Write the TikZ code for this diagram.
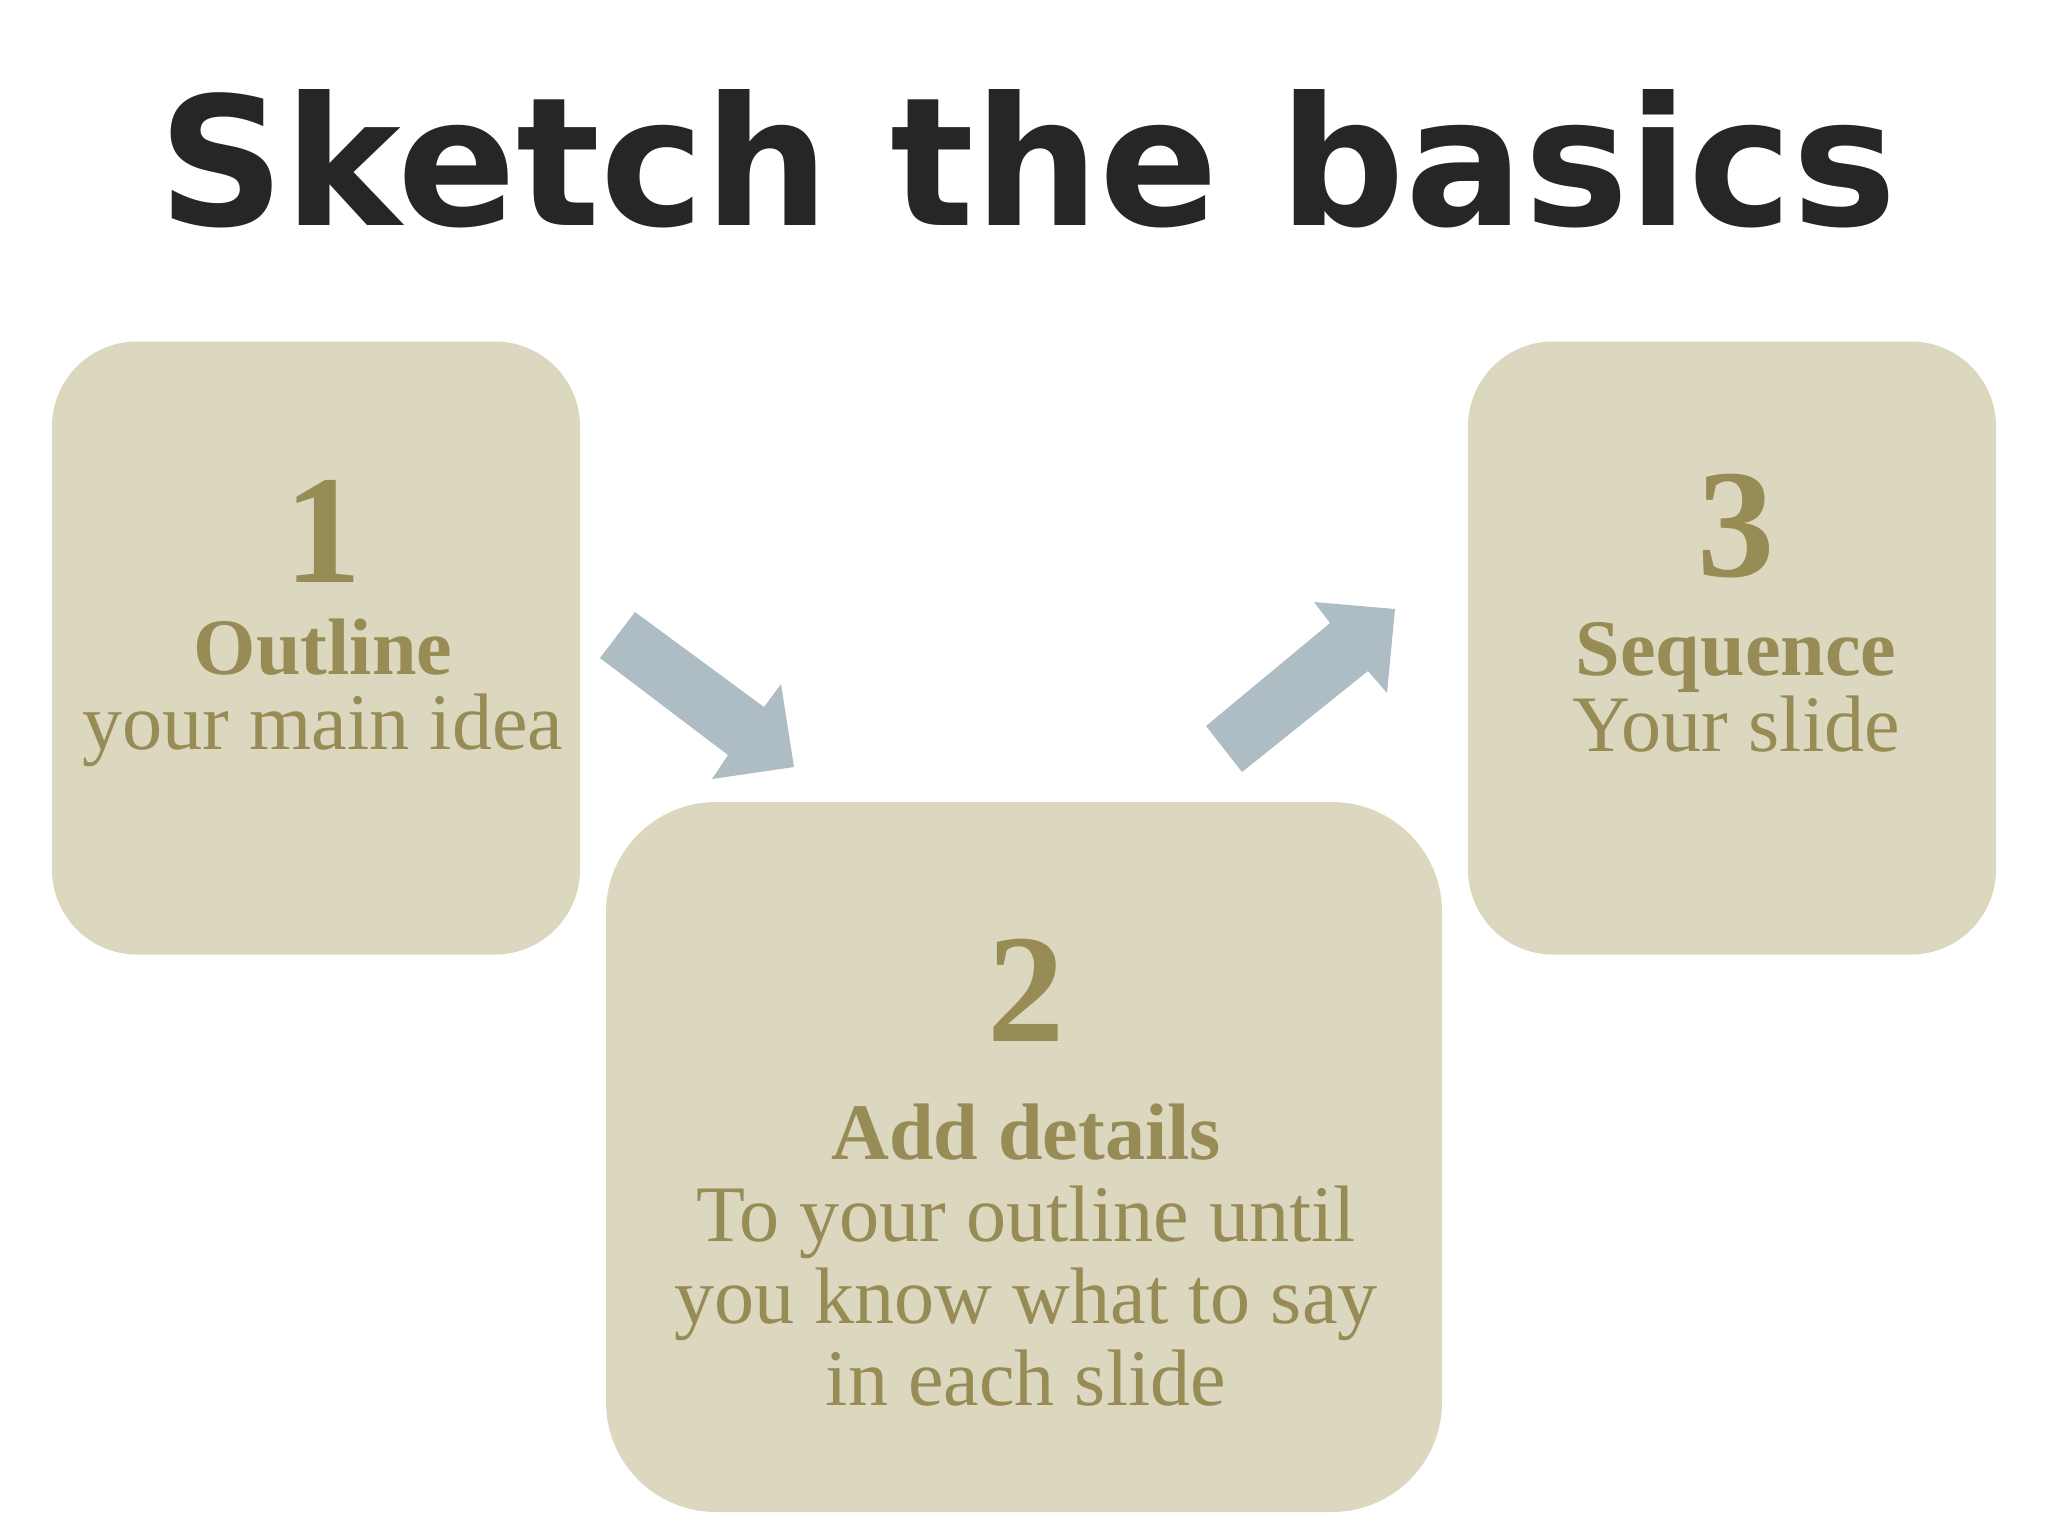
\documentclass[tikz,border=0pt]{standalone}
\usepackage{fontspec}
\setmainfont{Liberation Serif}
\newfontfamily\titlefont{DejaVu Sans}
\usetikzlibrary{positioning}

\definecolor{boxfill}{HTML}{DCD8C0}
\definecolor{stepink}{HTML}{978C55}
\definecolor{arrowgray}{HTML}{AEBDC4}
\definecolor{titleink}{HTML}{262626}

\newcommand{\stepnum}[1]{{\bfseries\fontsize{44pt}{44pt}\selectfont #1}}
\newcommand{\stephead}[1]{{\bfseries #1}}

\begin{document}
\begin{tikzpicture}[x=0.1mm, y=-0.1mm,
  stepbox/.style={fill=boxfill, rounded corners=8.5mm, inner sep=0},
  steptext/.style={text=stepink, anchor=north, inner sep=0, align=center},
  blockarrow/.style={fill=arrowgray}]
\useasboundingbox (0,0) rectangle (2048,1536);

\node[anchor=base, inner sep=0, text=titleink] (title) at (1028,225)
  {\resizebox{173.9mm}{13.6mm}{\titlefont\bfseries Sketch the basics}};

\node[stepbox, minimum width=52.8mm, minimum height=61.3mm] (one) at (316,648) {};
\node[stepbox, minimum width=83.6mm, minimum height=71mm, rounded corners=11mm] (two) at (1024,1157) {};
\node[stepbox, minimum width=52.8mm, minimum height=61.3mm] (three) at (1732,648) {};

% arrows between the steps
\fill[blockarrow] (635,612) -- (764,707) -- (781,684) -- (794,767) -- (712,779) -- (728,755) -- (600,658) -- cycle;
\fill[blockarrow] (1206,726) -- (1330,623) -- (1314,602) -- (1395,609) -- (1387,693) -- (1368,671) -- (1242,772) -- cycle;

\node[steptext, font=\fontsize{22.8pt}{7.5mm}\selectfont] (t1) at (323,480)
  {\stepnum{1}\\[1.7mm] \stephead{Outline}\\ your main idea};

\node[steptext, font=\fontsize{22.8pt}{8.2mm}\selectfont] (t2) at (1026,938)
  {\stepnum{2}\\[3.6mm] \stephead{Add details}\\ To your outline until\\ you know what to say\\ in each slide};

\node[steptext, font=\fontsize{22.8pt}{7mm}\selectfont] (t3) at (1736,473)
  {\stepnum{3}\\[2.9mm] \stephead{Sequence}\\ Your slide};
\end{tikzpicture}
\end{document}
